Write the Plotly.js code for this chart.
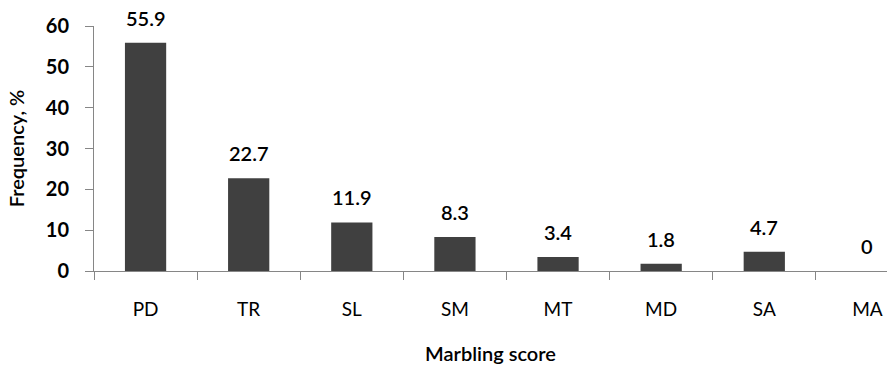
<!DOCTYPE html>
<html>
<head>
<meta charset="utf-8">
<script src="https://cdn.plot.ly/plotly-3.0.1.min.js"></script>
<style>html,body{margin:0;padding:0;overflow:hidden;background:#fff}</style>
</head>
<body>
<div id="chart" style="width:887px;height:377px"></div>
<script>
const categories = ["PD", "TR", "SL", "SM", "MT", "MD", "SA", "MA"];
const frequency = [55.9, 22.7, 11.9, 8.3, 3.4, 1.8, 4.7, 0];
const valueLabels = ["55.9", "22.7", "11.9", "8.3", "3.4", "1.8", "4.7", "0"];
const yTicks = [0, 10, 20, 30, 40, 50, 60];

const FONT = "Lato, 'Open Sans', sans-serif";
const AXIS = "#868686";

const trace = {
  type: "bar",
  x: categories,
  y: frequency,
  width: 0.4,
  marker: {color: "#404040"},
  hoverinfo: "x+y"
};

const annotations = categories.map((c, i) => ({
  x: c, y: frequency[i], xref: "x", yref: "y",
  text: valueLabels[i], showarrow: false,
  yanchor: "bottom", yshift: 11,
  font: {family: FONT, size: 20, color: "#000", weight: 600}
}));

const layout = {
  width: 887, height: 377,
  margin: {l: 94, r: 0, t: 26, b: 106},
  paper_bgcolor: "#fff", plot_bgcolor: "#fff",
  showlegend: false,
  xaxis: {
    type: "category",
    range: [-0.5, 7.19],
    showline: true, linecolor: AXIS, linewidth: 1,
    ticks: "outside", ticklen: 8, tickcolor: AXIS, tickwidth: 1,
    tickson: "boundaries",
    ticklabelstandoff: 21,
    tickfont: {family: FONT, size: 19, color: "#000", weight: 400},
    showgrid: false, zeroline: false,
    title: {text: "Marbling score", standoff: 28,
            font: {family: FONT, size: 20, color: "#000", weight: 600}}
  },
  yaxis: {
    range: [0, 60],
    tickvals: yTicks,
    ticktext: yTicks.map(String),
    showline: true, linecolor: AXIS, linewidth: 1,
    ticks: "outside", ticklen: 8, tickcolor: AXIS, tickwidth: 1,
    ticklabelstandoff: 12,
    tickfont: {family: FONT, size: 20, color: "#000", weight: 700},
    showgrid: false, zeroline: false,
    title: {text: "Frequency, %", standoff: 15,
            font: {family: FONT, size: 20, color: "#000", weight: 600}}
  },
  annotations: annotations
};

Plotly.newPlot("chart", [trace], layout, {displayModeBar: false, staticPlot: true});
</script>
</body>
</html>
